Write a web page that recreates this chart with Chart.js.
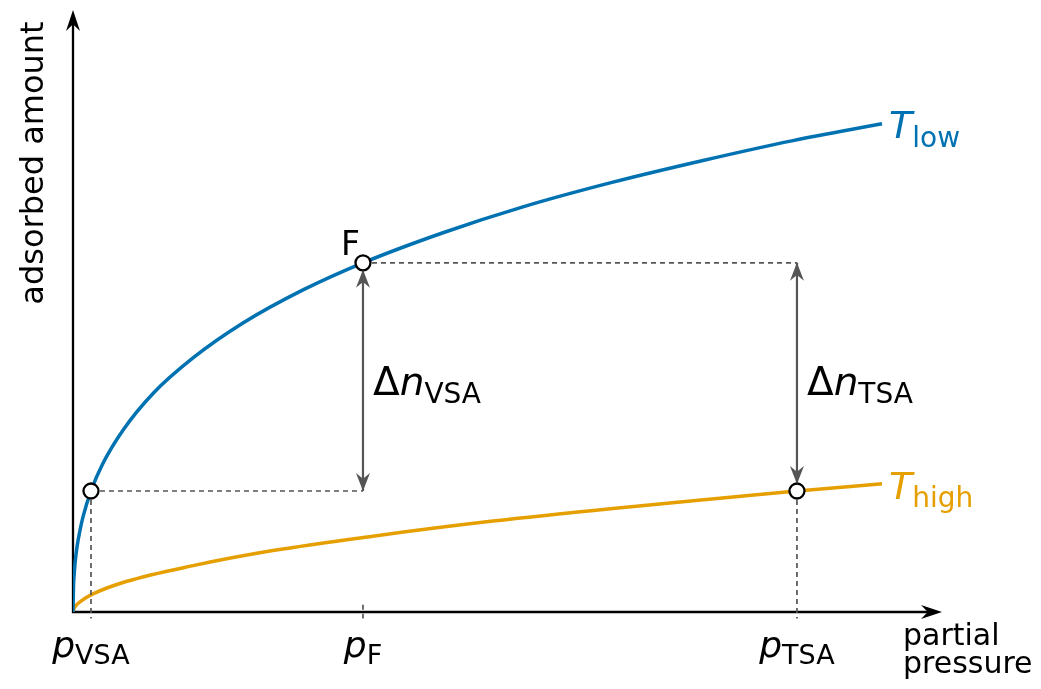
<!DOCTYPE html>
<html>
<head>
<meta charset="utf-8">
<script src="https://cdn.jsdelivr.net/npm/chart.js@4.4.1/dist/chart.umd.min.js"></script>
<style>
  html, body { margin: 0; padding: 0; background: #fff; }
  #wrap { width: 1041px; height: 689px; position: relative; }
</style>
</head>
<body>
<div id="wrap"><canvas id="isotherms"></canvas></div>
<script>
// low-temperature isotherm (pressure, loading)
const lowP = [0, 0.0006, 0.0012, 0.0023, 0.0046, 0.0081, 0.0115, 0.0207, 0.0345, 0.0575, 0.0921, 0.1381, 0.1956, 0.2647, 0.3337, 0.4258, 0.5178, 0.6214, 0.7250, 0.8285, 0.9310];
const lowN = [0, 0.044, 0.059, 0.080, 0.108, 0.136, 0.158, 0.201, 0.247, 0.302, 0.363, 0.422, 0.480, 0.535, 0.580, 0.630, 0.673, 0.714, 0.750, 0.783, 0.811];

// high-temperature isotherm
const highP = [0, 0.0012, 0.0035, 0.0092, 0.0230, 0.0621, 0.1381, 0.2301, 0.3452, 0.4833, 0.6214, 0.7595, 0.8331, 0.9310];
const highN = [0, 0.006, 0.011, 0.018, 0.030, 0.051, 0.077, 0.102, 0.126, 0.151, 0.172, 0.191, 0.201, 0.213];

// operating points
const pVSA = 0.0207, pF = 0.3337, pTSA = 0.8331;
const nRegen = 0.201, nF = 0.580;

// tick labels on the pressure axis: [symbol, subscript]
const tickPos = [pVSA, pF, pTSA];
const tickLabels = [['p', 'VSA'], ['p', 'F'], ['p', 'TSA']];

const BLUE = '#0072B2', ORANGE = '#E69F00', GREY = '#555555';
const FACE = '"DejaVu Sans", sans-serif';

const toXY = (xs, ys) => xs.map((x, i) => ({ x: x, y: ys[i] }));

function dashed(points) {
  return {
    data: points, showLine: true, borderColor: GREY, borderWidth: 1.7,
    borderDash: [5, 4], pointRadius: 0, clip: false, order: 2
  };
}

function arrow(points) {
  return {
    data: points, showLine: true, borderColor: GREY, borderWidth: 2.2,
    pointRadius: 0, order: 1
  };
}

// stealth-style arrow head, tip at (x, y)
function head(ctx, x, y, angle, len, half) {
  ctx.save();
  ctx.translate(x, y);
  ctx.rotate(angle);
  ctx.beginPath();
  ctx.moveTo(0, 0);
  ctx.lineTo(-len, half);
  ctx.lineTo(-len * 0.68, 0);
  ctx.lineTo(-len, -half);
  ctx.closePath();
  ctx.fill();
  ctx.restore();
}

// draws a run of text pieces, each with its own font and baseline shift
function runs(ctx, parts, x, y, align) {
  let w = 0;
  parts.forEach(p => { ctx.font = p.font; w += ctx.measureText(p.t).width; });
  let cx = align === 'center' ? x - w / 2 : x;
  parts.forEach(p => {
    ctx.font = p.font;
    ctx.fillText(p.t, cx, y + (p.dy || 0));
    cx += ctx.measureText(p.t).width;
  });
}

const axesAndLabels = {
  id: 'axesAndLabels',
  beforeDatasetsDraw(chart) {
    const { ctx, chartArea: a } = chart;
    ctx.save();
    ctx.strokeStyle = '#000';
    ctx.fillStyle = '#000';
    ctx.lineWidth = 2.3;
    ctx.beginPath();
    ctx.moveTo(a.left, a.bottom + 1);
    ctx.lineTo(a.left, a.top + 8);
    ctx.moveTo(a.left - 1, a.bottom);
    ctx.lineTo(a.right - 8, a.bottom);
    ctx.stroke();
    head(ctx, a.left, a.top, -Math.PI / 2, 21, 7);
    head(ctx, a.right, a.bottom, 0, 21, 7);
    ctx.restore();
  },
  afterDatasetsDraw(chart) {
    const { ctx, chartArea: a } = chart;
    const xs = chart.scales.x, ys = chart.scales.y;
    const X = v => xs.getPixelForValue(v), Y = v => ys.getPixelForValue(v);

    ctx.save();
    // arrow heads on the two loading-difference arrows
    ctx.fillStyle = GREY;
    const ring = 7;
    head(ctx, X(pF), Y(nF) + ring, -Math.PI / 2, 18, 7);
    head(ctx, X(pF), Y(nRegen), Math.PI / 2, 18, 7);
    head(ctx, X(pTSA), Y(nF), -Math.PI / 2, 18, 7);
    head(ctx, X(pTSA), Y(nRegen) - ring, Math.PI / 2, 18, 7);

    ctx.textBaseline = 'alphabetic';
    ctx.textAlign = 'left';

    // axis titles
    ctx.fillStyle = '#000';
    ctx.font = '32px ' + FACE;
    ctx.save();
    ctx.translate(43, 163);
    ctx.rotate(-Math.PI / 2);
    ctx.textAlign = 'center';
    ctx.fillText('adsorbed amount', 0, 0);
    ctx.restore();
    ctx.font = '30px ' + FACE;
    ctx.fillText('partial', a.right - 39, a.bottom + 33);
    ctx.fillText('pressure', a.right - 39, a.bottom + 61);

    // pressure tick labels
    tickLabels.forEach((lab, i) => {
      runs(ctx, [
        { t: lab[0], font: 'italic 36px ' + FACE },
        { t: lab[1], font: '27px ' + FACE, dy: 7 }
      ], X(tickPos[i]), a.bottom + 45, 'center');
    });

    // feed point
    ctx.textAlign = 'right';
    ctx.font = '33px ' + FACE;
    ctx.fillText('F', X(pF) - 3, Y(nF) - 8);
    ctx.textAlign = 'left';

    // working capacities
    const mid = (Y(nF) + Y(nRegen)) / 2 + 18;
    runs(ctx, [
      { t: '\u0394', font: '39px ' + FACE },
      { t: 'n', font: 'italic 39px ' + FACE },
      { t: 'VSA', font: '28px ' + FACE, dy: 8 }
    ], X(pF) + 10, mid, 'left');
    runs(ctx, [
      { t: '\u0394', font: '39px ' + FACE },
      { t: 'n', font: 'italic 39px ' + FACE },
      { t: 'TSA', font: '28px ' + FACE, dy: 8 }
    ], X(pTSA) + 10, mid, 'left');

    // curve names at the line ends
    const last = lowP.length - 1, lastH = highP.length - 1;
    ctx.fillStyle = BLUE;
    runs(ctx, [
      { t: 'T', font: 'italic 38px ' + FACE },
      { t: 'low', font: '28px ' + FACE, dy: 9 }
    ], X(lowP[last]) + 7, Y(lowN[last]) + 14, 'left');
    ctx.fillStyle = ORANGE;
    runs(ctx, [
      { t: 'T', font: 'italic 38px ' + FACE },
      { t: 'high', font: '28px ' + FACE, dy: 8 }
    ], X(highP[lastH]) + 7, Y(highN[lastH]) + 15, 'left');
    ctx.restore();
  }
};

new Chart(document.getElementById('isotherms'), {
  type: 'scatter',
  data: {
    datasets: [
      {
        data: toXY(lowP, lowN), showLine: true, borderColor: BLUE, borderWidth: 3.5,
        pointRadius: 0, cubicInterpolationMode: 'monotone', order: 3
      },
      {
        data: toXY(highP, highN), showLine: true, borderColor: ORANGE, borderWidth: 3.5,
        pointRadius: 0, cubicInterpolationMode: 'monotone', order: 3
      },
      dashed([{ x: pVSA, y: nRegen }, { x: pF, y: nRegen }]),
      dashed([{ x: pF, y: nF }, { x: pTSA, y: nF }]),
      dashed([{ x: pVSA, y: nRegen }, { x: pVSA, y: -0.011 }]),
      dashed([{ x: pTSA, y: nRegen }, { x: pTSA, y: -0.011 }]),
      dashed([{ x: pF, y: 0.012 }, { x: pF, y: -0.011 }]),
      arrow([{ x: pF, y: nRegen }, { x: pF, y: nF }]),
      arrow([{ x: pTSA, y: nF }, { x: pTSA, y: nRegen }]),
      {
        data: [{ x: pVSA, y: nRegen }, { x: pF, y: nF }, { x: pTSA, y: nRegen }],
        pointRadius: 7.5, pointBackgroundColor: '#fff', pointBorderColor: '#000',
        pointBorderWidth: 2.3, showLine: false, order: 0
      }
    ]
  },
  options: {
    responsive: true,
    maintainAspectRatio: false,
    animation: false,
    events: [],
    layout: { padding: { left: 73, top: 10, right: 99, bottom: 77 } },
    plugins: { legend: { display: false }, tooltip: { enabled: false } },
    scales: {
      x: { type: 'linear', min: 0, max: 1, display: false },
      y: { type: 'linear', min: 0, max: 1, display: false }
    }
  },
  plugins: [axesAndLabels]
});
</script>
</body>
</html>
